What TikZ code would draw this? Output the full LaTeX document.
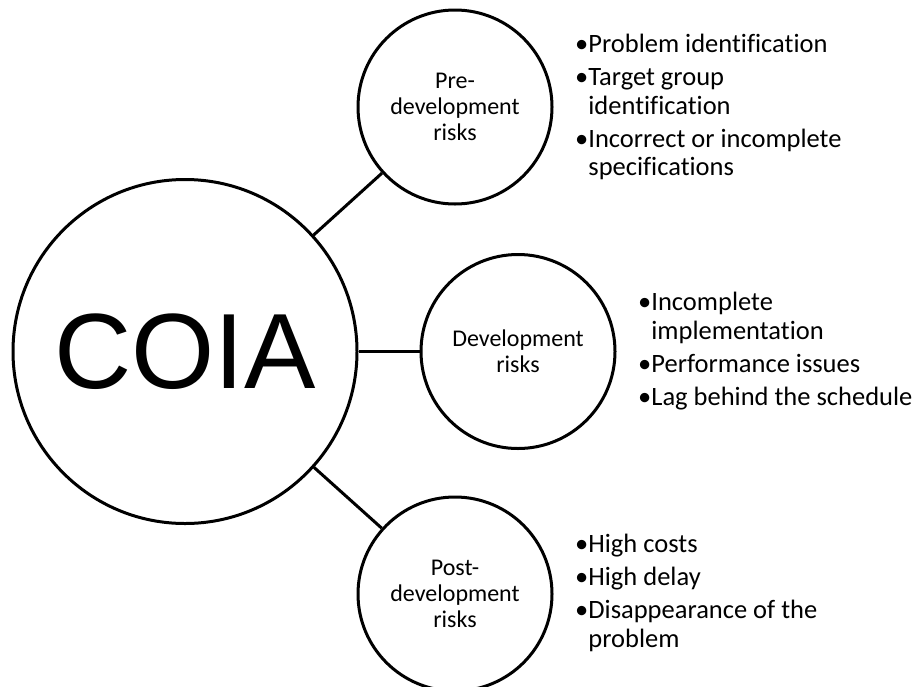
\documentclass[tikz,border=0pt]{standalone}
\usepackage{fontspec}
\setmainfont{Carlito}[Ligatures=NoCommon]
\newfontfamily\arialfont{Liberation Sans}
\newcommand{\itm}{\textbullet}
\newcommand{\cont}{\hphantom{\textbullet}}

\begin{document}
\begin{tikzpicture}[x=1pt, y=-1pt,
  hub/.style={draw, line width=3pt, circle, minimum size=344pt, inner sep=0pt,
    font=\arialfont\fontsize{107}{107}\selectfont},
  risk/.style={draw, line width=3pt, circle, minimum size=194pt, inner sep=0pt,
    align=center, font=\fontsize{24}{26}\selectfont},
  items/.style={anchor=north west, inner sep=0pt, align=left,
    font=\fontsize{26.5}{28.5}\selectfont},
  link/.style={line width=3pt}]
  \useasboundingbox (0,0) rectangle (912,686);
  % centre
  \node[hub] (coia) at (185,351.5) {COIA};
  % risk groups
  \node[risk] (pre)  at (455,107)   {Pre-\\development\\risks};
  \node[risk] (dev)  at (518,351.5) {Development\\risks};
  \node[risk] (post) at (455,594)   {Post-\\development\\risks};
  % links
  \draw[link] (coia) -- (pre);
  \draw[link] (coia) -- (dev);
  \draw[link] (coia) -- (post);
  % lists
  \node[items] (prelist) at (575,34) {\itm Problem identification\\[4.5pt]
    \itm Target group\\ \cont identification\\[4.5pt]
    \itm Incorrect or incomplete\\ \cont specifications};
  \node[items] (devlist) at (638,292) {\itm Incomplete\\ \cont implementation\\[4.5pt]
    \itm Performance issues\\[4.5pt]
    \itm Lag behind the schedule};
  \node[items] (postlist) at (575,534) {\itm High costs\\[4.5pt]
    \itm High delay\\[4.5pt]
    \itm Disappearance of the\\ \cont problem};
\end{tikzpicture}
\end{document}
